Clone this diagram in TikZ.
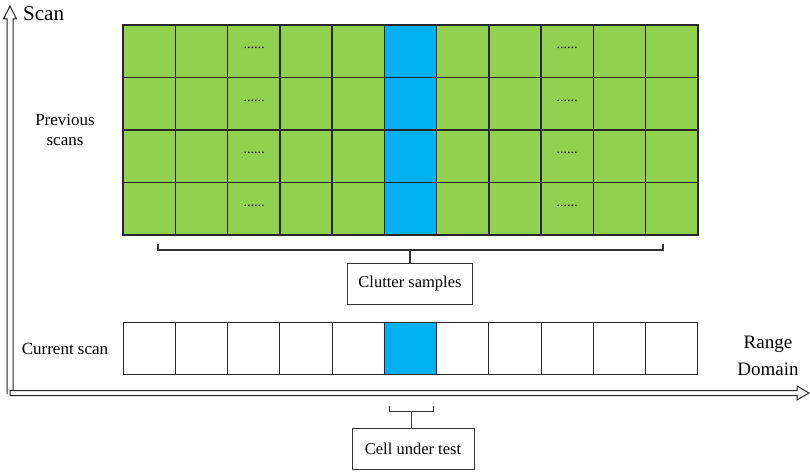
\documentclass[tikz,border=0pt]{standalone}
\usepackage{fontspec}
\setmainfont{Liberation Serif}
\definecolor{cgreen}{HTML}{92D050}
\definecolor{cblue}{HTML}{00B0F0}
\begin{document}
\begin{tikzpicture}[x=1pt,y=-1pt,
  cell/.style={draw=black!85,line width=1.4pt},
  axisline/.style={draw=black!85,line width=1pt,line join=miter},
  lbl/.style={font=\fontsize{17}{20}\selectfont,align=center,inner sep=1pt},
  tagbox/.style={draw=black!80,line width=0.9pt,fill=white,font=\fontsize{16.5}{19}\selectfont,minimum width=125pt,minimum height=41pt,inner sep=2pt},
  brace/.style={draw=black!80,line width=1.3pt},
  dots/.style={font=\fontsize{14}{14}\selectfont,inner sep=0pt}]
\useasboundingbox (0,0) rectangle (810,473);
% previous scans grid
\foreach \r in {0,...,3}{
  \foreach \c in {0,...,10}{
    \pgfmathsetmacro{\xa}{123+52.27*\c}
    \pgfmathsetmacro{\xb}{123+52.27*(\c+1)}
    \pgfmathsetmacro{\ya}{25+52.5*\r}
    \pgfmathsetmacro{\yb}{25+52.5*(\r+1)}
    \ifnum\c=5
      \fill[cblue] (\xa,\ya) rectangle (\xb,\yb);
    \else
      \fill[cgreen] (\xa,\ya) rectangle (\xb,\yb);
    \fi
    \draw[cell] (\xa,\ya) rectangle (\xb,\yb);
  }
  \node[dots] (da\r) at (254,{25+52.5*\r+23}) {......};
  \node[dots] (db\r) at (567,{25+52.5*\r+23}) {......};
}
% current scan
\foreach \c in {0,...,10}{
  \pgfmathsetmacro{\xa}{123+52.27*\c}
  \pgfmathsetmacro{\xb}{123+52.27*(\c+1)}
  \ifnum\c=5
    \fill[cblue] (\xa,322) rectangle (\xb,374);
  \fi
  \draw[draw=black!85,line width=1pt] (\xa,322) rectangle (\xb,374);
}
% axes (hollow double arrows)
\draw[axisline] (7,394) -- (7,19) -- (3.5,19) -- (10,6) -- (16.5,19) -- (13,19) -- (13,394);
\draw[axisline,fill=white] (10,390.5) -- (797,390.5) -- (797,386) -- (809,393) -- (797,400) -- (797,395.5) -- (10,395.5) -- cycle;
% labels
\node[font=\fontsize{21}{24}\selectfont,anchor=west,inner sep=0pt] (scan) at (23,14) {Scan};
\node[lbl] (prev) at (65,130) {Previous\\scans};
\node[lbl] (cur) at (65,349) {Current scan};
\node[lbl,font=\fontsize{19}{27}\selectfont] (range) at (768,356) {Range\\Domain};
% clutter samples
\node[tagbox] (clut) at (410,283.5) {Clutter samples};
\coordinate (cl) at (158,244);
\coordinate (cr) at (663,244);
\draw[brace] (cl) -- ++(0,6) -| (cr);
\draw[brace] (clut.north) -- (410,250);
% cell under test
\node[tagbox,minimum width=122pt] (cut) at (413,449) {Cell under test};
\coordinate (tl) at (389,406);
\coordinate (tr) at (433,406);
\coordinate (ts) at (411,411);
\draw[brace,line width=1pt] (tl) -- ++(0,5) -| (tr);
\draw[brace,line width=1pt] (ts) -- (ts |- cut.north);
\end{tikzpicture}
\end{document}
